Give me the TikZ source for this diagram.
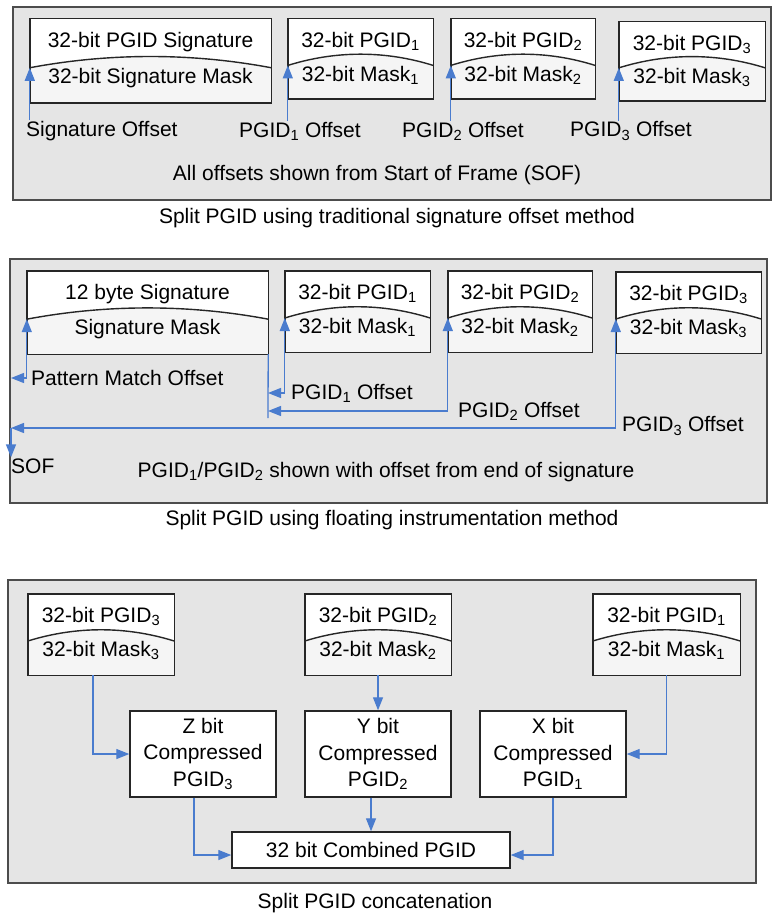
\documentclass[tikz,border=0pt]{standalone}
\usepackage{fontspec}
\setmainfont{Liberation Sans}
\usepackage{tikz}
\usetikzlibrary{arrows.meta,calc,fit}
\definecolor{offblue}{RGB}{74,124,206}

% split box: name, x1, y1, x2, y2, upper text, lower text
\newcommand{\pgidbox}[7]{%
  \node[pgidbox,fit={(#2,#3) (#4,#5)}] (#1) {};
  \coordinate (#1-l) at ($(#1.north west)!0.58!(#1.south west)$);
  \coordinate (#1-r) at ($(#1.north east)!0.58!(#1.south east)$);
  \fill[white] (#1.north west) -- (#1-l) .. controls ($(#1-l)!0.33!(#1-r)+(0,-15)$) and ($(#1-l)!0.67!(#1-r)+(0,-15)$) .. (#1-r) -- (#1.north east) -- cycle;
  \draw[boxline] (#1-l) .. controls ($(#1-l)!0.33!(#1-r)+(0,-15)$) and ($(#1-l)!0.67!(#1-r)+(0,-15)$) .. (#1-r);
  \draw[boxline] (#1.north west) rectangle (#1.south east);
  \node[lbl] (#1-top) at ($(#1.north)!0.28!(#1.south)$) {#6};
  \node[lbl] (#1-bot) at ($(#1.north)!0.70!(#1.south)$) {#7};
}

\begin{document}
\begin{tikzpicture}[x=1pt,y=-1pt,font={\fontsize{21}{26.5}\selectfont},
  panel/.style={draw=black!70,line width=1.8pt,fill=black!10,inner sep=0pt},
  pgidbox/.style={fill=black!4,inner sep=0pt},
  boxline/.style={draw=black!85,line width=1.4pt},
  plainbox/.style={boxline,fill=white,inner sep=0pt,align=center,minimum width=146pt},
  lbl/.style={inner sep=1pt},
  tip/.tip={Triangle[length=13pt,width=10pt]},
  offarrow/.style={draw=offblue,line width=1.3pt,-tip},
  offboth/.style={draw=offblue,line width=1.3pt,tip-tip},
  offline/.style={draw=offblue,line width=1.3pt}]
\useasboundingbox (0,0) rectangle (774,915);

% traditional signature offset
\node[panel,fit={(13,7) (771,200)}] (pan1) {};
\pgidbox{siga}{30}{19}{271}{103}{32-bit PGID Signature}{32-bit Signature Mask}
\pgidbox{a1}{288}{19}{433}{99}{32-bit PGID\textsubscript{1}}{32-bit Mask\textsubscript{1}}
\pgidbox{a2}{451}{19}{595}{99}{32-bit PGID\textsubscript{2}}{32-bit Mask\textsubscript{2}}
\pgidbox{a3}{619}{22}{765}{101}{32-bit PGID\textsubscript{3}}{32-bit Mask\textsubscript{3}}
\node[lbl,anchor=west] (sigoff) at (25,131) {Signature Offset};
\node[lbl,anchor=west] (a1off) at (238,131) {PGID\textsubscript{1} Offset};
\node[lbl,anchor=west] (a2off) at (401,131) {PGID\textsubscript{2} Offset};
\node[lbl,anchor=west] (a3off) at (569,131) {PGID\textsubscript{3} Offset};
\draw[offarrow] (sigoff.north -| siga-l) -- (siga-l);
\draw[offarrow] (a1off.north -| a1-l) -- (a1-l);
\draw[offarrow] (a2off.north -| a2-l) -- (a2-l);
\draw[offarrow] (a3off.north -| a3-l) -- (a3-l);
\node[lbl] (note1) at (377,175) {All offsets shown from Start of Frame (SOF)};
\node[lbl] (cap1) at (397,218) {Split PGID using traditional signature offset method};

% floating instrumentation
\node[panel,fit={(10,259) (767,503)}] (pan2) {};
\pgidbox{sigc}{27}{271}{268}{354}{12 byte Signature}{Signature Mask}
\pgidbox{c1}{285}{271}{430}{352}{32-bit PGID\textsubscript{1}}{32-bit Mask\textsubscript{1}}
\pgidbox{c2}{448}{271}{592}{352}{32-bit PGID\textsubscript{2}}{32-bit Mask\textsubscript{2}}
\pgidbox{c3}{616}{272}{761}{353}{32-bit PGID\textsubscript{3}}{32-bit Mask\textsubscript{3}}
\coordinate (sofc) at (11,428);
\coordinate (eos) at (268,418);
\node[lbl,anchor=west] (pmoff) at (30,378) {Pattern Match Offset};
\node[lbl,anchor=west] (c1off) at (290,393) {PGID\textsubscript{1} Offset};
\node[lbl,anchor=west] (c2off) at (457,411) {PGID\textsubscript{2} Offset};
\node[lbl,anchor=west] (c3off) at (621,426) {PGID\textsubscript{3} Offset};
\node[lbl,anchor=west] (sof) at (10,466) {SOF};
\draw[offline] (sigc.south east) -- (eos);
\draw[offboth] (pmoff.west -| sofc) -- (pmoff.west -| sigc-l) -- (sigc-l);
\draw[offboth] (eos |- c1off.west) -- (c1off.west -| c1-l) -- (c1-l);
\draw[offboth] (eos |- c2off.west) -- (c2off.west -| c2-l) -- (c2-l);
\draw[offboth] (sofc) -- (sofc -| c3-l) -- (c3-l);
\draw[offarrow] (sofc) -- (sofc |- sof.north);
\node[lbl] (note2) at (386,472) {PGID\textsubscript{1}/PGID\textsubscript{2} shown with offset from end of signature};
\node[lbl] (cap2) at (392,520) {Split PGID using floating instrumentation method};

% concatenation
\node[panel,fit={(8,580) (756,883)}] (pan3) {};
\pgidbox{e3}{28}{594}{174}{675}{32-bit PGID\textsubscript{3}}{32-bit Mask\textsubscript{3}}
\pgidbox{e2}{305}{594}{451}{675}{32-bit PGID\textsubscript{2}}{32-bit Mask\textsubscript{2}}
\pgidbox{e1}{593}{594}{740}{675}{32-bit PGID\textsubscript{1}}{32-bit Mask\textsubscript{1}}
\node[plainbox,minimum height=86pt] (zc) at (203,754) {Z bit\\Compressed\\PGID\textsubscript{3}};
\node[plainbox,minimum height=86pt] (yc) at (378,754) {Y bit\\Compressed\\PGID\textsubscript{2}};
\node[plainbox,minimum height=86pt] (xc) at (553,754) {X bit\\Compressed\\PGID\textsubscript{1}};
\node[plainbox,minimum width=278pt,minimum height=36pt] (comb) at (371,850) {32 bit Combined PGID};
\draw[offarrow] ([xshift=-8pt]e3.south) |- (zc.west);
\draw[offarrow] (e2.south) -- (yc.north);
\draw[offarrow] (e1.south) |- (xc.east);
\draw[offarrow] ([xshift=-9pt]zc.south) |- ([yshift=-5pt]comb.west);
\draw[offarrow] (yc.south -| comb.north) -- (comb.north);
\draw[offarrow] (xc.south) |- ([yshift=-5pt]comb.east);
\node[lbl] (cap3) at (375,903) {Split PGID concatenation};
\end{tikzpicture}
\end{document}
